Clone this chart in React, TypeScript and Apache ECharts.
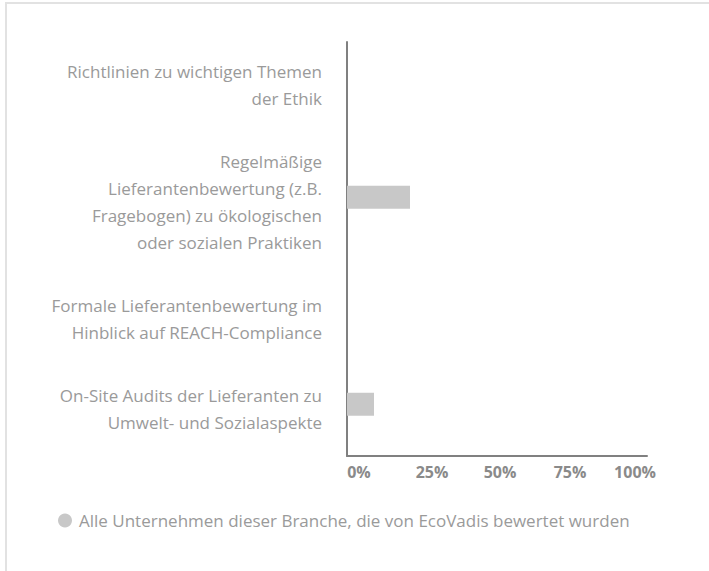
import React, { useEffect, useRef } from "react";
import * as echarts from "echarts";

const categories: string[][] = [
  ["Richtlinien zu wichtigen Themen", "der Ethik"],
  ["Regelmäßige", "Lieferantenbewertung (z.B.", "Fragebogen) zu ökologischen", "oder sozialen Praktiken"],
  ["Formale Lieferantenbewertung im", "Hinblick auf REACH-Compliance"],
  ["On-Site Audits der Lieferanten zu", "Umwelt- und Sozialaspekte"],
];
const seriesName = "Alle Unternehmen dieser Branche, die von EcoVadis bewertet wurden";
const values: number[] = [0, 21, 0, 9];
const tickLabels: string[] = ["0%", "25%", "50%", "75%", "100%"];

// vertical nudges for category labels (top spacer, bottom spacer)
const labelSpacers: [number, number][] = [
  [0, 18],
  [10, 0],
  [36, 0],
  [10, 0],
];
const tickPads: number[][] = [
  [0, 0, 0, 24],
  [0, 0, 0, 20],
  [0, 0, 0, 6],
  [0, 4, 0, 0],
  [0, 24, 0, 0],
];

export default function App() {
  const ref = useRef<HTMLDivElement>(null);
  useEffect(() => {
    if (!ref.current) return;
    const chart = echarts.init(ref.current, undefined, { renderer: "svg" });
    const font = "'Open Sans', 'Noto Sans', sans-serif";
    const catKeys = categories.map((_, i) => "c" + i);
    const rich: Record<string, any> = {
      t: { fontFamily: font, fontSize: 17, color: "#9a9a9a", lineHeight: 27, align: "right" },
    };
    labelSpacers.forEach(([a, b], i) => {
      rich["s" + i + "a"] = { lineHeight: Math.max(a, 1), fontSize: 1 };
      rich["s" + i + "b"] = { lineHeight: Math.max(b, 1), fontSize: 1 };
    });
    const xRich: Record<string, any> = {};
    tickPads.forEach((p, i) => {
      xRich["x" + i] = {
        fontFamily: font,
        fontSize: 16,
        fontWeight: "bold",
        color: "#8a8a8a",
        padding: p,
      };
    });
    chart.setOption({
      animation: false,
      textStyle: { fontFamily: font },
      graphic: [
        { type: "line", shape: { x1: 5, y1: 3, x2: 709, y2: 3 }, style: { stroke: "#e2e2e2", lineWidth: 2 }, silent: true },
        { type: "line", shape: { x1: 6, y1: 3, x2: 6, y2: 571 }, style: { stroke: "#e2e2e2", lineWidth: 2 }, silent: true },
      ],
      legend: {
        left: 53,
        top: 507,
        icon: "circle",
        itemWidth: 14,
        itemHeight: 14,
        itemGap: 10,
        textStyle: { fontFamily: font, fontSize: 17, color: "#9a9a9a", padding: [0, 0, 0, 2] },
        data: [seriesName],
      },
      grid: { left: 347, right: 62, top: 42, bottom: 115, containLabel: false },
      xAxis: {
        type: "value",
        min: 0,
        max: 100,
        interval: 25,
        axisLine: { show: true, lineStyle: { color: "#808080", width: 2 } },
        axisTick: { show: false },
        splitLine: { show: false },
        axisLabel: {
          margin: 8,
          showMinLabel: true,
          showMaxLabel: true,
          formatter: (v: number) => {
            const i = Math.round(v / 25);
            return "{x" + i + "|" + tickLabels[i] + "}";
          },
          rich: xRich,
        },
      },
      yAxis: {
        type: "category",
        inverse: true,
        data: catKeys,
        axisLine: { show: true, lineStyle: { color: "#808080", width: 2 } },
        axisTick: { show: false },
        splitLine: { show: false },
        axisLabel: {
          margin: 25,
          align: "right",
          formatter: (v: string) => {
            const i = catKeys.indexOf(v);
            const lines = categories[i].map((l) => "{t|" + l + "}");
            const [a, b] = labelSpacers[i];
            const parts: string[] = [];
            if (a > 0) parts.push("{s" + i + "a| }");
            parts.push(...lines);
            if (b > 0) parts.push("{s" + i + "b| }");
            return parts.join("\n");
          },
          rich,
        },
      },
      series: [
        {
          name: seriesName,
          type: "bar",
          data: values,
          barWidth: 23,
          itemStyle: { color: "#c8c8c8" },
        },
      ],
    });
    return () => chart.dispose();
  }, []);
  return (
    <div
      ref={ref}
      style={{ position: "fixed", left: 0, top: 0, width: 709, height: 571, background: "#fff" }}
    />
  );
}
